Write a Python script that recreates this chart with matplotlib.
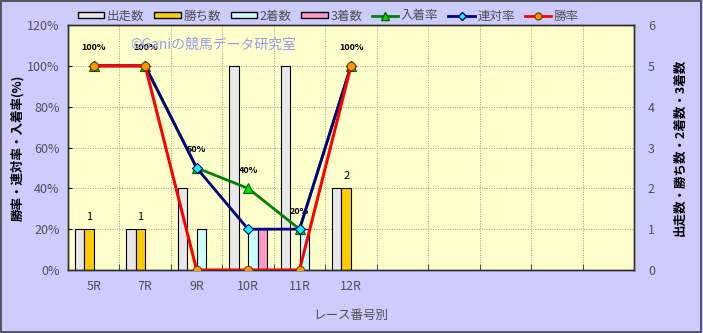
import matplotlib
matplotlib.use('Agg')
import matplotlib.pyplot as plt
import numpy as np
from matplotlib.patches import Rectangle, Patch
from matplotlib.lines import Line2D

plt.rcParams['font.family'] = ['Noto Sans CJK JP', 'DejaVu Sans']

# ---- data ----
categories = ['5R', '7R', '9R', '10R', '11R', '12R', '', '', '', '', '']
starts = [1, 1, 2, 5, 5, 2]          # 出走数
wins = [1, 1, 0, 0, 0, 2]            # 勝ち数
seconds = [0, 0, 1, 1, 1, 0]         # 2着数
thirds = [0, 0, 0, 1, 0, 0]          # 3着数
place_rate = [100, 100, 50, 40, 20, 100]   # 入着率
rentai_rate = [100, 100, 50, 20, 20, 100]  # 連対率
win_rate = [100, 100, 0, 0, 0, 100]        # 勝率
pct_ticks = [0, 20, 40, 60, 80, 100, 120]
count_ticks = [0, 1, 2, 3, 4, 5, 6]

W, H = 703, 333
fig = plt.figure(figsize=(W / 100, H / 100), dpi=100)
fig.patch.set_facecolor('#CCCCFF')
fig.patches.append(Rectangle((0.002, 0.004), 0.995, 0.992, transform=fig.transFigure,
                             fill=False, edgecolor='#404040', linewidth=1.2))

L, R, B, T = 68, 634, 270, 25
rect = [L / W, 1 - B / H, (R - L) / W, (B - T) / H]
ax2 = fig.add_axes(rect)           # counts (right)
ax = ax2.twinx()                   # percent (left) -- on top
ax.yaxis.tick_left(); ax.yaxis.set_label_position('left')
ax2.yaxis.tick_right(); ax2.yaxis.set_label_position('right')

ax2.set_facecolor('#FFFFCC')
n = len(categories)
x = np.arange(len(starts))
bw = 0.185

tc = '#505050'
ax2.bar(x - 1.5 * bw, starts, bw, color='#E8E8E8', edgecolor='black', linewidth=0.8, zorder=2)
ax2.bar(x - 0.5 * bw, wins, bw, color='#FFCC00', edgecolor='black', linewidth=0.8, zorder=2)
ax2.bar(x + 0.5 * bw, seconds, bw, color='#CCFFFF', edgecolor='black', linewidth=0.8, zorder=2)
ax2.bar(x + 1.5 * bw, thirds, bw, color='#FF99CC', edgecolor='black', linewidth=0.8, zorder=2)
for xi, v in zip(x, wins):
    if v > 0:
        ax2.annotate(str(v), (xi - 0.5 * bw, v), xytext=(0, 9), textcoords='offset points',
                     ha='center', va='center', fontsize=8, color='black')

ax2.set_ylim(0, 6)
ax2.set_yticks(count_ticks)
ax2.set_xlim(-0.5, n - 0.5)

ax.plot(x, place_rate, color='#008000', lw=2, marker='^', ms=7, mfc='#00DD00',
        mec='#006600', mew=0.8, zorder=3)
ax.plot(x, rentai_rate, color='#000080', lw=2, marker='D', ms=5, mfc='#00FFFF',
        mec='#000080', mew=0.8, zorder=4)
ax.plot(x, win_rate, color='#FF0000', lw=2.2, marker='o', ms=6, mfc='#FF9900',
        mec='#804000', mew=0.8, zorder=5)
for xi, v in zip(x, place_rate):
    ax.annotate(f'{v}%', (xi, v), xytext=(0, 13), textcoords='offset points',
                ha='center', va='center', fontsize=6.5, fontweight='bold', color='black')

ax.set_ylim(0, 120)
ax.set_yticks(pct_ticks)
ax.set_yticklabels([f'{t}%' for t in pct_ticks])

# grid
for yv in pct_ticks[1:-1]:
    ax2.axhline(yv / 20, color='#999999', lw=0.7, ls=(0, (1, 1.5)), zorder=1)
for xb in np.arange(0.5, n - 0.5, 1):
    ax2.axvline(xb, color='#999999', lw=0.7, ls=(0, (1, 1.5)), zorder=1)

ax2.set_xticks(np.arange(n))
ax2.set_xticklabels(categories, fontsize=9, color=tc)
ax2.tick_params(axis='x', which='major', length=0, pad=7)
ax2.set_xticks(np.arange(-0.5, n, 1), minor=True)
ax2.tick_params(axis='x', which='minor', length=4, direction='in', color='#303030')
ax2.set_xlim(-0.5, n - 0.5)

ax.tick_params(axis='y', labelsize=9, labelcolor=tc, length=3, direction='in', color='black', pad=6)
ax2.tick_params(axis='y', labelsize=9, labelcolor=tc, length=0, pad=10)
for a in (ax, ax2):
    for s in a.spines.values():
        s.set_color('#303030'); s.set_linewidth(1)

ax.set_ylabel('勝率・連対率・入着率(%)', fontsize=9, color='black', fontweight='bold')
ax2.set_ylabel('出走数・勝ち数・2着数・3着数', fontsize=9, color='black', rotation=90,
               fontweight='bold')
ax.yaxis.set_label_coords(-0.077, 0.5)
ax2.yaxis.set_label_coords(1 + 40 / (R - L), 0.5)
ax2.set_xlabel('レース番号別', fontsize=9, color=tc, labelpad=12)

ax.text(130 / W, 1 - 45 / H, '©Ganiの競馬データ研究室', transform=fig.transFigure,
        fontsize=10, color='#9999EE', va='center', ha='left', zorder=10)

handles = [
    Patch(facecolor='#E8E8E8', edgecolor='black'),
    Patch(facecolor='#FFCC00', edgecolor='black'),
    Patch(facecolor='#CCFFFF', edgecolor='black'),
    Patch(facecolor='#FF99CC', edgecolor='black'),
    Line2D([], [], color='#008000', lw=2, marker='^', ms=6, mfc='#00DD00', mec='#006600'),
    Line2D([], [], color='#000080', lw=2, marker='D', ms=4, mfc='#00FFFF', mec='#000080'),
    Line2D([], [], color='#FF0000', lw=2, marker='o', ms=5, mfc='#FF9900', mec='#804000'),
]
labels = ['出走数', '勝ち数', '2着数', '3着数', '入着率', '連対率', '勝率']
leg = fig.legend(handles, labels, loc='center', bbox_to_anchor=(0.467, 1 - 16 / H), ncol=7,
                 frameon=False, fontsize=9, handlelength=2.1, handleheight=0.4,
                 columnspacing=0.8, handletextpad=0.2, borderpad=0)
for t in leg.get_texts():
    t.set_color(tc)

fig.savefig('out.png', dpi=100, facecolor=fig.get_facecolor())
